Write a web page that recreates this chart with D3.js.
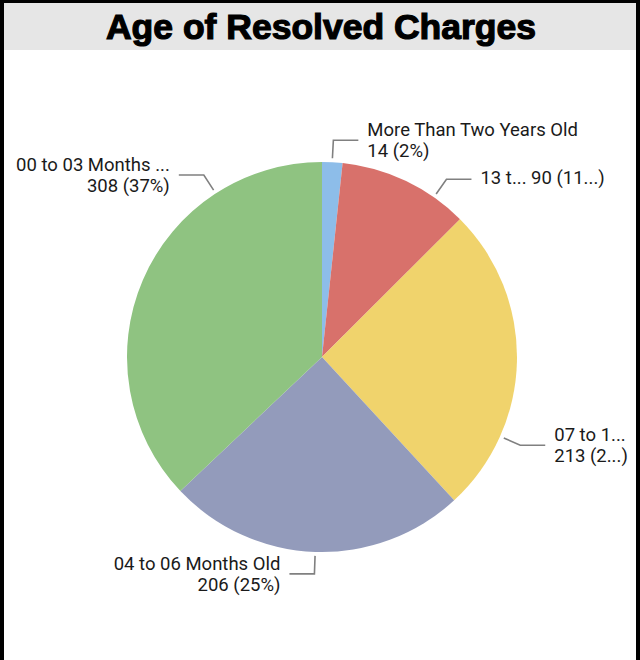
<!DOCTYPE html>
<html>
<head>
<meta charset="utf-8">
<script src="https://cdn.jsdelivr.net/npm/d3@7"></script>
<style>
  html, body { margin: 0; padding: 0; background: #ffffff; }
  svg { display: block; }
</style>
</head>
<body>
<svg id="chart" width="640" height="660"></svg>
<script>
// ---- data ----
const categories = ["More Than Two Years Old", "13 to 24 Months Old", "07 to 12 Months Old", "04 to 06 Months Old", "00 to 03 Months Old"];
const shownNames = ["More Than Two Years Old", "13 t...", "07 to 1...", "04 to 06 Months Old", "00 to 03 Months ..."];
const values = [14, 90, 213, 206, 308];
const valueLabels = ["14 (2%)", "90 (11...)", "213 (2...)", "206 (25%)", "308 (37%)"];
const colors = ["#8DBDE9", "#D8716B", "#F0D36C", "#939BBB", "#8FC381"];
const title = "Age of Resolved Charges";

// ---- layout (not data) ----
const W = 640, H = 660;
const cx = 322, cy = 357, R = 195;
const labelAngleDeg = [3, 35, 114, 182, 327];   // where the leaders were placed
const singleLine = [false, true, false, false, false];

const svg = d3.select("#chart");

// frame
svg.append("rect").attr("x", 0).attr("y", 0).attr("width", W).attr("height", H).attr("fill", "#fff");
svg.append("rect").attr("x", 4).attr("y", 3).attr("width", 632).attr("height", 47).attr("fill", "#E6E6E6");
svg.append("rect").attr("x", 0).attr("y", 0).attr("width", W).attr("height", 3).attr("fill", "#000");
svg.append("rect").attr("x", 0).attr("y", 0).attr("width", 4).attr("height", H).attr("fill", "#000");
svg.append("rect").attr("x", 636).attr("y", 0).attr("width", 4).attr("height", H).attr("fill", "#000");

svg.append("text")
  .attr("x", 321).attr("y", 39)
  .attr("text-anchor", "middle")
  .attr("font-family", "'Liberation Sans', Arial, sans-serif")
  .attr("font-weight", "bold")
  .attr("font-size", 35.5)
  .attr("fill", "#000")
  .attr("stroke", "#000")
  .attr("stroke-width", 1.2)
  .text(title);

const data = categories.map((c, i) => ({ cat: c, value: values[i], i }));
const pie = d3.pie().value(d => d.value).sort(null);
const arcs = pie(data);
const arc = d3.arc().innerRadius(0).outerRadius(R);

const g = svg.append("g").attr("transform", `translate(${cx},${cy})`);
g.selectAll("path.slice").data(arcs).join("path")
  .attr("class", "slice")
  .attr("d", arc)
  .attr("fill", d => colors[d.data.i])
  .attr("stroke", "none");

const lab = svg.append("g");
arcs.forEach((a, k) => {
  const ang = labelAngleDeg[k] * Math.PI / 180;
  const p0 = [cx + (R + 4) * Math.sin(ang), cy - (R + 4) * Math.cos(ang)];
  const p1 = [cx + (R + 22) * Math.sin(ang), cy - (R + 22) * Math.cos(ang)];
  const right = labelAngleDeg[k] < 180;
  const dir = right ? 1 : -1;
  const p2 = [p1[0] + dir * 25, p1[1]];
  lab.append("polyline")
    .attr("points", [p0, p1, p2].map(p => p.join(",")).join(" "))
    .attr("fill", "none").attr("stroke", "#808080").attr("stroke-width", 1.6);
  const tx = p2[0] + dir * 9;
  const t = lab.append("text")
    .attr("font-family", "Roboto, 'Noto Sans', sans-serif")
    .attr("font-size", 18.5)
    .attr("fill", "#1a1a1a")
    .attr("text-anchor", right ? "start" : "end");
  if (singleLine[k]) {
    t.append("tspan").attr("x", tx).attr("y", p1[1] + 5)
      .text(shownNames[a.data.i] + " " + valueLabels[a.data.i]);
  } else {
    t.append("tspan").attr("x", tx).attr("y", p1[1] - 4).text(shownNames[a.data.i]);
    t.append("tspan").attr("x", tx).attr("y", p1[1] + 17).text(valueLabels[a.data.i]);
  }
});
</script>
</body>
</html>
